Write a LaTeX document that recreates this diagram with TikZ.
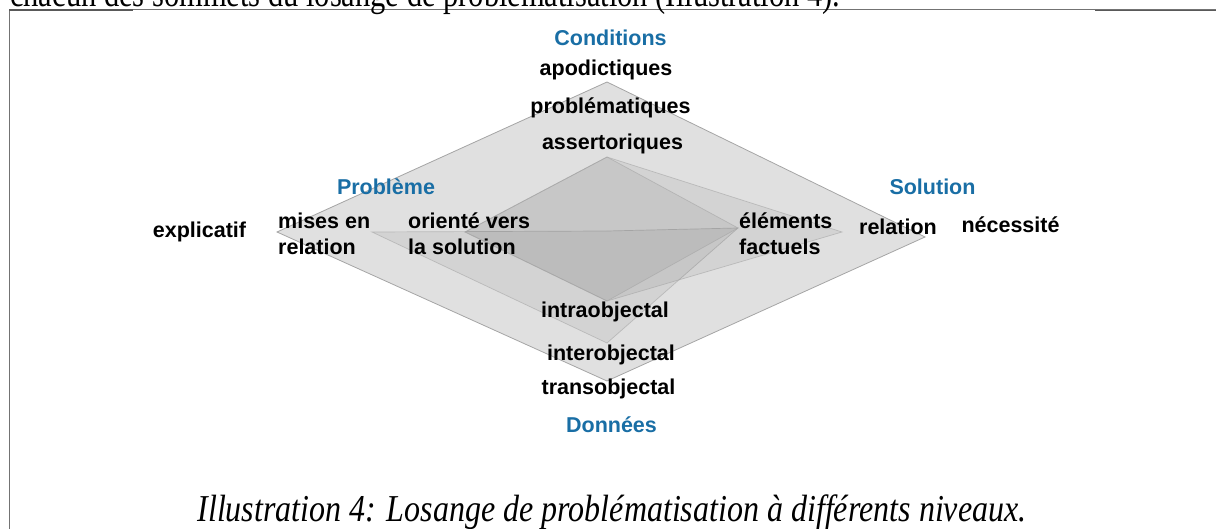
\documentclass[tikz,border=0pt]{standalone}
\usepackage{fontspec}
\setmainfont{Liberation Serif}
\setsansfont{Liberation Sans}
\usepackage{graphicx}
\definecolor{axblue}{RGB}{25,110,165}
\definecolor{edgegray}{RGB}{165,165,165}
\begin{document}
\begin{tikzpicture}[x=1pt,y=-1pt,
  lab/.style={font=\sffamily\bfseries\fontsize{21.5}{24}\selectfont, inner sep=0pt, anchor=base},
  labw/.style={lab, anchor=base west},
  cat/.style={lab, text=axblue},
  layer/.style={fill=black, fill opacity=0.055, draw=edgegray, draw opacity=0.6, line width=0.7pt},
  outerlayer/.style={fill=black!12, draw=edgegray, line width=0.8pt},
  frameline/.style={draw=black!55, line width=1pt}]
\useasboundingbox (0,0) rectangle (1216,529);
% frame
\coordinate (fTL) at (9,10);
\coordinate (fBL) at (9,529);
\coordinate (fTR) at (1216,10);
\draw[frameline] (fBL) -- (fTL) -- (fTR);
\draw[draw=black!65, line width=1.4pt] (fTL) -- (133,10);
\draw[draw=black!65, line width=1.6pt] (1095,10.5) -- (1216,10.5);
% top running text (clipped)
\node[anchor=base west, inner sep=0pt] (runtext) at (10,7)
  {\resizebox{830pt}{\height}{\fontsize{38}{40}\selectfont chacun des sommets du losange de problématisation (Illustration 4).}};
% layers
\coordinate (C) at (607,231);
\coordinate (T1) at (607,82);
\coordinate (R1) at (925,237);
\coordinate (B1) at (607,381);
\coordinate (L1) at (277,232);
\coordinate (R2) at (738,228);
\coordinate (B2) at (607,343);
\coordinate (L2) at (372,232);
\coordinate (T3) at (607,157);
\coordinate (R3) at (842,232);
\coordinate (B3) at (607,301);
\coordinate (L3) at (465,232);
\path[outerlayer] (T1) -- (R1) -- (B1) -- (L1) -- cycle;
\path[layer] (C) -- (R2) -- (B2) -- (L2) -- cycle;
\path[layer] (T3) -- (R3) -- (B3) -- (L3) -- cycle;
\path[layer] (T3) -- (R2) -- (B3) -- (L3) -- cycle;
% labels
\node[cat] (cond) at (610.5,46) {Conditions};
\node[lab] (apod) at (606,76) {apodictiques};
\node[lab] (prob) at (610.5,114) {problématiques};
\node[lab] (asse) at (612.5,150) {assertoriques};
\node[cat] (probl) at (386,195) {Problème};
\node[cat] (solu) at (932.5,195) {Solution};
\node[lab] (expl) at (199.5,238) {explicatif};
\node[labw] (mise1) at (278,229) {mises en};
\node[labw] (mise2) at (278,255) {relation};
\node[labw] (orie1) at (408,229) {orienté vers};
\node[labw] (orie2) at (408,255) {la solution};
\node[labw] (elem1) at (739,229) {éléments};
\node[labw] (elem2) at (739,255) {factuels};
\node[lab] (rela) at (898,235) {relation};
\node[lab] (nece) at (1010.5,233) {nécessité};
\node[lab] (intra) at (605,318) {intraobjectal};
\node[lab] (inter) at (611,361) {interobjectal};
\node[lab] (trans) at (608.5,395) {transobjectal};
\node[cat] (donn) at (611.5,432) {Données};
% caption
\node[anchor=base, inner sep=0pt] (capt) at (612,521)
  {\resizebox{829pt}{\height}{\fontsize{38}{40}\selectfont\itshape Illustration 4: Losange de problématisation à différents niveaux.}};
\end{tikzpicture}
\end{document}
